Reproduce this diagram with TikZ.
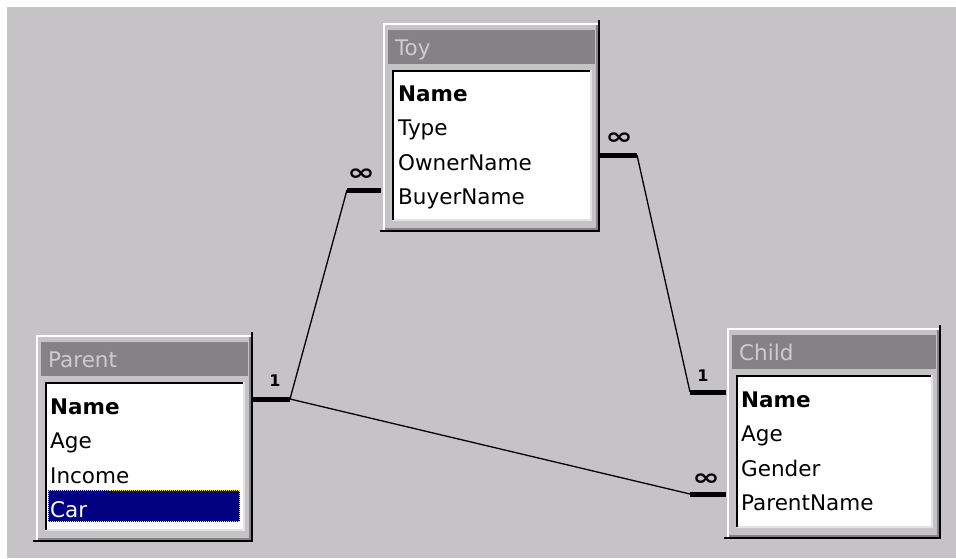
\documentclass[tikz,border=0pt]{standalone}
\usepackage{fontspec}
\usepackage{graphicx}
\setmainfont{DejaVu Sans}
\usetikzlibrary{positioning,calc}
\definecolor{wingrey}{RGB}{198,195,198}
\definecolor{titlegrey}{RGB}{132,130,132}
\definecolor{lightedge}{RGB}{228,226,228}
\definecolor{selblue}{RGB}{0,0,128}
\tikzset{
    field/.style={anchor=base west, inner sep=0pt, font=\fontsize{21.5}{26}\selectfont},
    keyfield/.style={field, font=\fontsize{21.5}{26}\selectfont\bfseries},
    tabletitle/.style={field, text=wingrey!85!white},
    linkbar/.style={line width=5pt},
    linkline/.style={line width=1.3pt},
    card/.style={inner sep=0pt, font=\fontsize{16}{16}\selectfont\bfseries},
    many/.style={inner sep=0pt, font=\fontsize{22}{22}\selectfont\bfseries}
}
% raised table window: id, left, top, right, bottom, title
\newcommand{\dbtable}[6]{
    \draw[white, line width=2pt] (#2+1,#5-1) -- (#2+1,#3+1) -- (#4-1,#3+1);
    \draw[titlegrey, line width=2pt] (#2+2,#5-3) -- (#4-3,#5-3) -- (#4-3,#3+2);
    \draw[black, line width=2pt] (#2-3,#5-1) -- (#4-1,#5-1) -- (#4-1,#3-3);
    \fill[titlegrey] (#2+5,#3+7) rectangle (#4-5,#3+41);
    \node[tabletitle] (#1-title) at (#2+12,#3+32) {#6};
    \fill[white] (#2+9,#3+47) rectangle (#4-10,#5-13);
    \draw[lightedge, line width=2pt] (#2+9,#5-12) -- (#4-9,#5-12) -- (#4-9,#3+47);
    \draw[black, line width=2pt] (#2+10,#5-12) -- (#2+10,#3+48) -- (#4-10,#3+48);
}
\newcommand{\oo}{\scalebox{1.5}[1.05]{∞}}

\begin{document}
\begin{tikzpicture}[x=1pt, y=-1pt]
    \useasboundingbox (0,0) rectangle (956,558);
    \fill[wingrey] (7,7) rectangle (956,558);

    % tables
    \dbtable{toy}{383}{23}{600}{232}{Toy}
    \dbtable{parent}{36}{335}{253}{542}{Parent}
    \dbtable{child}{727}{328}{941}{539}{Child}

    \fill[selblue] (48,490) rectangle (240,522);
    \draw[yellow, line width=1pt, densely dotted] (48.5,490.5) rectangle (239.5,521.5);

    \node[keyfield] (toy-Name) at (398,101) {Name};
    \foreach \f [count=\i] in {Type, OwnerName, BuyerName}
        \node[field] (toy-\f) at (398,101+\i*34.6) {\f};

    \node[keyfield] (parent-Name) at (50,414) {Name};
    \foreach \f [count=\i] in {Age, Income}
        \node[field] (parent-\f) at (50,414+\i*34.6) {\f};
    \node[field, text=white] (parent-Car) at (50,414+3*34.6) {Car};

    \node[keyfield] (child-Name) at (741,407) {Name};
    \foreach \f [count=\i] in {Age, Gender, ParentName}
        \node[field] (child-\f) at (741,407+\i*34.6) {\f};

    % relationship lines
    \coordinate (parent-out) at (253,399);
    \coordinate (parent-bend) at (290,399);
    \coordinate (toy-in-bend) at (347,190);
    \coordinate (toy-in) at (381,190);
    \coordinate (toy-out) at (600,155);
    \coordinate (toy-out-bend) at (637,155);
    \coordinate (child-in-bend) at (690,392);
    \coordinate (child-in) at (726,392);
    \coordinate (child-fk-bend) at (690,494);
    \coordinate (child-fk) at (726,494);

    \draw[linkbar] (parent-out) -- (parent-bend);
    \draw[linkline] (parent-bend) -- (toy-in-bend);
    \draw[linkbar] (toy-in-bend) -- (toy-in);
    \draw[linkline] (parent-bend) -- (child-fk-bend);
    \draw[linkbar] (child-fk-bend) -- (child-fk);
    \draw[linkbar] (toy-out) -- (toy-out-bend);
    \draw[linkline] (toy-out-bend) -- (child-in-bend);
    \draw[linkbar] (child-in-bend) -- (child-in);

    \node[card] (one-parent) at (275,381) {1};
    \node[many] (many-toy-buyer) at (361,175) {\oo};
    \node[many] (many-toy-owner) at (619,139) {\oo};
    \node[card] (one-child) at (703,376) {1};
    \node[many] (many-child) at (706,480) {\oo};
\end{tikzpicture}
\end{document}
